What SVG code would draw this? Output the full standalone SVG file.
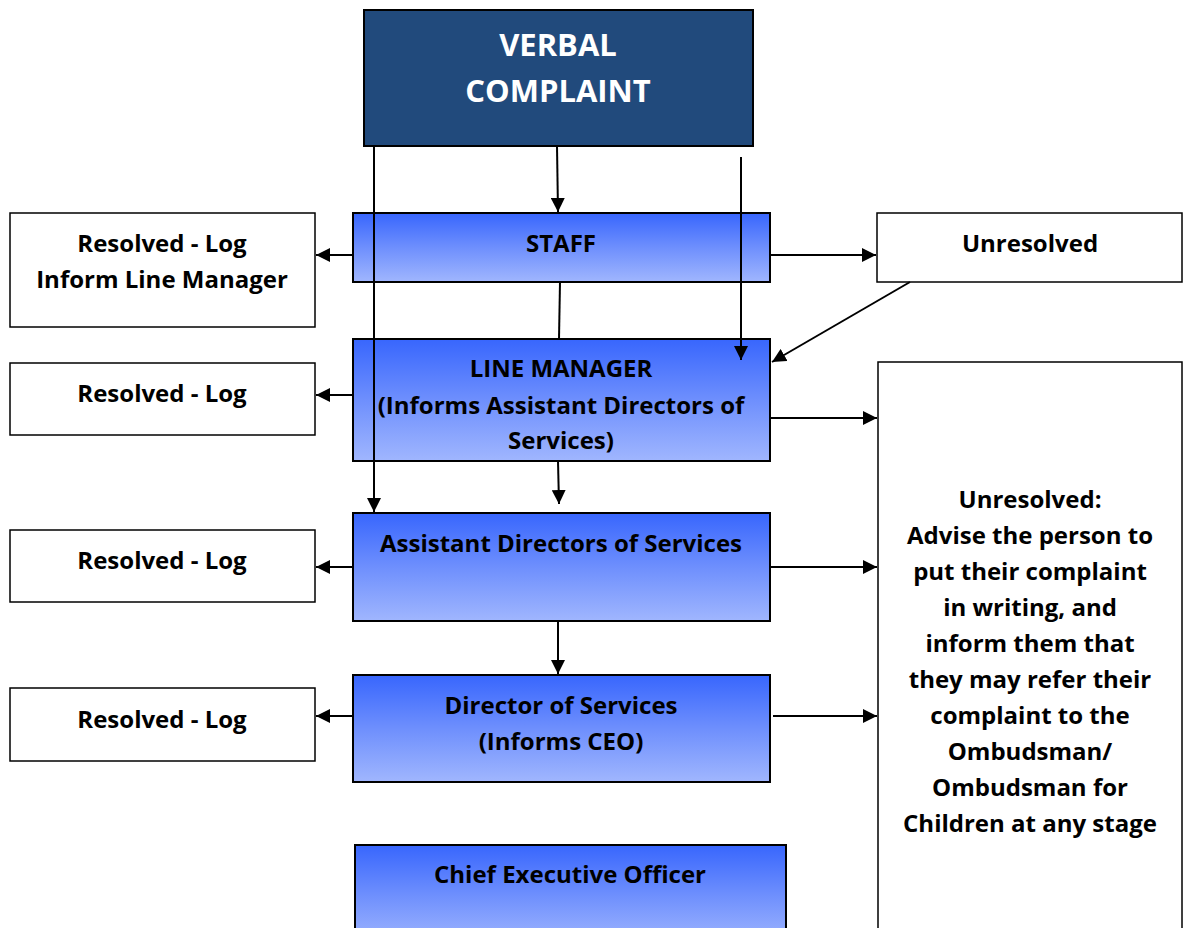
<svg xmlns="http://www.w3.org/2000/svg" width="1183" height="928" viewBox="0 0 1183 928">
<defs>
<linearGradient id="blue" x1="0" y1="0" x2="0" y2="1">
<stop offset="0" stop-color="#3866fd"/>
<stop offset="0.5" stop-color="#6e8ffd"/>
<stop offset="1" stop-color="#a0b6fe"/>
</linearGradient>
<marker id="arr" markerWidth="14" markerHeight="14" viewBox="0 0 14 14" refX="14" refY="7" orient="auto" markerUnits="userSpaceOnUse">
<path d="M0,0 L14,7 L0,14 z" fill="#000"/>
</marker>
<style>
text{font-family:"Open Sans",Lato,"Liberation Sans",sans-serif;font-weight:bold;text-anchor:middle;fill:#000;font-size:24px}
.w{fill:#fff;font-size:31px}
.box{fill:url(#blue);stroke:#000;stroke-width:2}
.wb{fill:#fff;stroke:#000;stroke-width:1.5}
.c{stroke:#000;stroke-width:2;fill:none}
.a{stroke:#000;stroke-width:2;fill:none;marker-end:url(#arr)}
</style>
</defs>
<g id="verbal">
<rect x="364" y="10" width="389" height="136" fill="#214a7c" stroke="#000" stroke-width="2"/>
<text class="w" x="558" y="56">VERBAL</text>
<text class="w" x="558" y="102">COMPLAINT</text>
</g>
<g id="staff">
<rect class="box" x="353" y="213" width="417" height="69"/>
<text x="561" y="252">STAFF</text>
</g>
<g id="resolved1">
<rect class="wb" x="10" y="213" width="305" height="114"/>
<text x="162" y="252">Resolved - Log</text>
<text x="162" y="288">Inform Line Manager</text>
</g>
<g id="unresolved1">
<rect class="wb" x="877" y="213" width="305" height="69"/>
<text x="1030" y="252">Unresolved</text>
</g>
<g id="linemanager">
<rect class="box" x="353" y="339" width="417" height="122"/>
<text x="561" y="377">LINE MANAGER</text>
<text x="561" y="414">(Informs Assistant Directors of</text>
<text x="561" y="449">Services)</text>
</g>
<g id="resolved2">
<rect class="wb" x="10" y="363" width="305" height="72"/>
<text x="162" y="402">Resolved - Log</text>
</g>
<g id="unresolved2">
<rect class="wb" x="878" y="362" width="304" height="580"/>
<text x="1030" y="508">Unresolved:</text>
<text x="1030" y="544">Advise the person to</text>
<text x="1030" y="580">put their complaint</text>
<text x="1030" y="616">in writing, and</text>
<text x="1030" y="652">inform them that</text>
<text x="1030" y="688">they may refer their</text>
<text x="1030" y="724">complaint to the</text>
<text x="1030" y="760">Ombudsman/</text>
<text x="1030" y="796">Ombudsman for</text>
<text x="1030" y="832">Children at any stage</text>
</g>
<g id="assistant">
<rect class="box" x="353" y="513" width="417" height="108"/>
<text x="561" y="552">Assistant Directors of Services</text>
</g>
<g id="resolved3">
<rect class="wb" x="10" y="530" width="305" height="72"/>
<text x="162" y="569">Resolved - Log</text>
</g>
<g id="director">
<rect class="box" x="353" y="675" width="417" height="107"/>
<text x="561" y="714">Director of Services</text>
<text x="561" y="750">(Informs CEO)</text>
</g>
<g id="resolved4">
<rect class="wb" x="10" y="688" width="305" height="73"/>
<text x="162" y="728">Resolved - Log</text>
</g>
<g id="ceo">
<rect class="box" x="355" y="845" width="431" height="100"/>
<text x="570" y="883">Chief Executive Officer</text>
</g>
<g id="connectors">
<line class="a" x1="557" y1="146" x2="558" y2="212"/>
<line class="a" x1="374" y1="146" x2="374" y2="512"/>
<line class="a" x1="741" y1="157" x2="741" y2="360"/>
<line class="a" x1="353" y1="255" x2="316" y2="255"/>
<line class="a" x1="770" y1="255" x2="876" y2="255"/>
<line class="c" x1="560" y1="282" x2="559" y2="339"/>
<line class="a" x1="910" y1="282" x2="772" y2="362"/>
<line class="a" x1="353" y1="395" x2="316" y2="395"/>
<line class="a" x1="770" y1="418" x2="877" y2="418"/>
<line class="a" x1="558" y1="461" x2="559" y2="504"/>
<line class="a" x1="353" y1="567" x2="316" y2="567"/>
<line class="a" x1="770" y1="567" x2="877" y2="567"/>
<line class="a" x1="558" y1="621" x2="558" y2="674"/>
<line class="a" x1="353" y1="716" x2="316" y2="716"/>
<line class="a" x1="773" y1="716" x2="877" y2="716"/>
</g>
</svg>
